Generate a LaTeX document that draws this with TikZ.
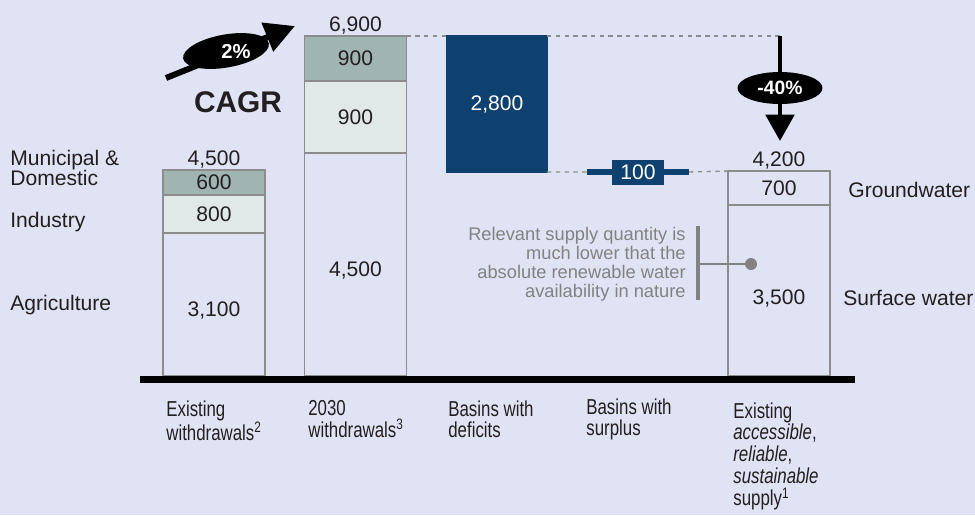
\documentclass[tikz,border=0pt]{standalone}
\usepackage{fontspec}
\setmainfont{Liberation Sans}
\newfontfamily\narrowfont[FakeStretch=0.78]{Liberation Sans}
\usetikzlibrary{positioning,shapes.geometric,arrows.meta}
\definecolor{bgcol}{RGB}{224,227,244}
\definecolor{segdark}{RGB}{160,180,178}
\definecolor{seglight}{RGB}{224,233,232}
\definecolor{edgegray}{RGB}{140,140,140}
\definecolor{deficitblue}{RGB}{14,64,112}
\definecolor{notegray}{RGB}{130,130,130}
\definecolor{txt}{RGB}{35,31,32}
\begin{document}
\begin{tikzpicture}[x=0.02cm, y=-0.02cm, font=\fontsize{12}{14}\selectfont, text=txt]
    % Define styles
    \tikzstyle{seg}=[rectangle, draw=edgegray, line width=1pt, inner sep=0pt, outer sep=0pt, minimum width=2.04cm, anchor=north]
    \tikzstyle{val}=[inner sep=1pt]
    \tikzstyle{total}=[anchor=south, inner sep=1pt]
    \tikzstyle{sidelbl}=[anchor=west, align=left, inner sep=0pt, font=\fontsize{12}{11.3}\selectfont]
    \tikzstyle{catlbl}=[anchor=north west, align=left, inner sep=0pt, font=\narrowfont\fontsize{12.3}{12.5}\selectfont]
    \tikzstyle{pill}=[ellipse, fill=black, text=white, inner sep=0pt, font=\fontsize{11}{13}\selectfont\bfseries]
    \tikzstyle{bigarrow}=[-{Triangle[length=15pt, width=16pt]}, line width=2.8pt, draw=black]
    \tikzstyle{dotline}=[draw=edgegray, line width=0.8pt, dash pattern=on 2.5pt off 2.5pt]
    \tikzstyle{notebar}=[draw=notegray, line width=1.8pt]

    % Background
    \fill[bgcol] (0,0) rectangle (975,515);
    \useasboundingbox (0,0) rectangle (975,515);

    % Existing withdrawals
    \node[seg, fill=segdark, minimum height=0.5cm] (mun1) at (214,170) {600};
    \node[seg, fill=seglight, minimum height=0.76cm] (ind1) at (mun1.south) {800};
    \node[seg, minimum height=2.86cm] (agr1) at (ind1.south) {};
    \node[val] (agr1v) at (214,310) {3,100};
    \node[total] (tot1) at (mun1.north) {4,500};

    % 2030 withdrawals
    \node[seg, fill=segdark, minimum height=0.9cm] (mun2) at (355.5,36) {900};
    \node[seg, fill=seglight, minimum height=1.44cm] (ind2) at (mun2.south) {900};
    \node[seg, minimum height=4.46cm] (agr2) at (ind2.south) {};
    \node[val] (agr2v) at (355.5,270) {4,500};
    \node[total] (tot2) at (mun2.north) {6,900};

    % Existing supply
    \node[seg, minimum height=0.68cm] (gw5) at (779,171) {700};
    \node[seg, minimum height=3.42cm] (sw5) at (gw5.south) {};
    \node[val] (sw5v) at (779,298) {3,500};
    \node[total] (tot5) at (gw5.north) {4,200};

    % Deficit and surplus
    \coordinate (arrtop) at (780,36);
    \coordinate (arrtip) at (780,141);
    \coordinate (surL) at (587,172);
    \coordinate (surR) at (689,172);
    \node[seg, draw=deficitblue, fill=deficitblue, text=white, minimum width=2.0cm, minimum height=2.72cm] (def) at (497,36) {2,800};
    \draw[dotline] (mun2.north east) -- (def.north west);
    \draw[dotline] (def.north east) -- (arrtop);
    \draw[dotline] (def.south east) -- (surL);
    \draw[dotline] (surR) -- (gw5.north west);
    \draw[deficitblue, line width=3.4pt] (surL) -- (surR);
    \node[rectangle, fill=deficitblue, text=white, inner sep=0pt, minimum width=1.06cm, minimum height=0.5cm] (sur) at (638,172) {100};

    % Axis
    \coordinate (axL) at (140,379.5);
    \coordinate (axR) at (855,379.5);
    \draw[black, line width=4.5pt] (axL) -- (axR);

    % Growth arrows
    \coordinate (upL) at (166,78);
    \coordinate (upR) at (295,26);
    \draw[bigarrow, line width=3.4pt, -{Triangle[length=17pt, width=17pt]}] (upL) -- (upR);
    \node[pill, rotate=10, minimum width=1.74cm, minimum height=0.66cm] (cagr) at (226,51) {};
    \node[inner sep=0pt, text=white, font=\fontsize{11.5}{13}\selectfont\bfseries] (cagrv) at (236,52) {2\%};
    \node[font=\fontsize{17}{20}\selectfont\bfseries] (cagrlbl) at (238,102) {CAGR};
    \draw[bigarrow] (arrtop) -- (arrtip);
    \node[pill, minimum width=1.7cm, minimum height=0.64cm] (cut) at (780,88) {-40\%};

    % Side labels
    \node[sidelbl] (munlbl) at (10,168) {Municipal \&\\Domestic};
    \node[sidelbl] (indlbl) at (10,222) {Industry};
    \node[sidelbl] (agrlbl) at (10,305) {Agriculture};
    \node[sidelbl] (gwlbl) at (848,190) {Groundwater};
    \node[sidelbl] (swlbl) at (843,298) {Surface water};

    % Note
    \coordinate (noteT) at (698,226);
    \coordinate (noteB) at (698,300);
    \coordinate (noteM) at (698,264);
    \node[anchor=east, align=right, inner sep=0pt, text=notegray, font=\fontsize{10.4}{10.8}\selectfont] (note) at (686,264.5) {Relevant supply quantity is\\much lower that the\\absolute renewable water\\availability in nature};
    \node[circle, fill=notegray, minimum size=0.24cm, inner sep=0pt] (dot) at (751,264) {};
    \draw[notebar] (noteT) -- (noteB);
    \draw[notebar, line width=1.5pt] (noteM) -- (dot);

    % Category labels
    \node[catlbl] (cat1) at (166,400) {Existing\\withdrawals\textsuperscript{2}};
    \node[catlbl] (cat2) at (308,400) {2030\\withdrawals\textsuperscript{3}};
    \node[catlbl] (cat3) at (448,400) {Basins with\\deficits};
    \node[catlbl] (cat4) at (586,398) {Basins with\\surplus};
    \node[catlbl] (cat5) at (733,402) {Existing\\\itshape accessible\upshape,\\\itshape reliable\upshape,\\\itshape sustainable\\supply\textsuperscript{1}};
\end{tikzpicture}
\end{document}
